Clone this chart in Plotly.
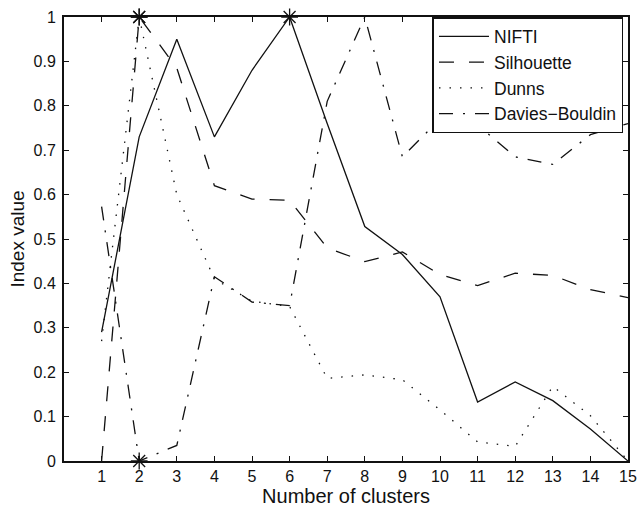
import numpy as np
import plotly.graph_objects as go

# ---- data ----
clusters = list(range(1, 16))
nifti = [0.29, 0.73, 0.95, 0.73, 0.88, 1.0, 0.76, 0.528, 0.465, 0.37, 0.133, 0.178, 0.136, 0.072, 0.0]
silhouette = [0.0, 1.0, 0.885, 0.62, 0.59, 0.587, 0.48, 0.449, 0.471, 0.42, 0.395, 0.423, 0.418, 0.386, 0.368]
dunns = [0.27, 1.0, 0.6, 0.41, 0.36, 0.348, 0.186, 0.194, 0.183, 0.115, 0.043, 0.033, 0.168, 0.102, 0.0]
davies = [0.573, 0.0, 0.035, 0.415, 0.358, 0.35, 0.81, 1.0, 0.685, 0.77, 0.757, 0.685, 0.668, 0.735, 0.76]

y_tick_vals = [0, 0.1, 0.2, 0.3, 0.4, 0.5, 0.6, 0.7, 0.8, 0.9, 1]
y_tick_text = ["0", "0.1", "0.2", "0.3", "0.4", "0.5", "0.6", "0.7", "0.8", "0.9", "1"]

FONT = "Liberation Sans, Arial, Helvetica, sans-serif"
INK = "#111111"

fig = go.Figure()
fig.add_trace(go.Scatter(x=clusters, y=nifti, mode="lines", name="NIFTI",
                         line=dict(color=INK, width=1.3)))
fig.add_trace(go.Scatter(x=clusters, y=silhouette, mode="lines", name="Silhouette",
                         line=dict(color=INK, width=1.3, dash="15px,15px")))
fig.add_trace(go.Scatter(x=clusters, y=dunns, mode="lines", name="Dunns",
                         line=dict(color=INK, width=1.3, dash="1.5px,9px")))
fig.add_trace(go.Scatter(x=clusters, y=davies, mode="lines", name="Davies\u2212Bouldin",
                         line=dict(color=INK, width=1.3, dash="14px,10px,2px,10px")))

# optimum markers (max of NIFTI, Silhouette, Dunns; min of Davies-Bouldin)
c = np.array(clusters)
opt_x = [c[np.argmax(nifti)], c[np.argmax(silhouette)], c[np.argmax(dunns)], c[np.argmin(davies)]]
opt_y = [max(nifti), max(silhouette), max(dunns), min(davies)]
fig.add_trace(go.Scatter(x=opt_x, y=opt_y, mode="markers", showlegend=False, cliponaxis=False,
                         marker=dict(symbol="asterisk-open", size=14, color=INK,
                                     line=dict(color=INK, width=1.3))))

axis_common = dict(showline=True, linecolor=INK, linewidth=2, mirror="ticks",
                   ticks="inside", ticklen=5, tickwidth=1, tickcolor=INK,
                   showgrid=False, zeroline=False, automargin=False,
                   tickfont=dict(family=FONT, size=16, color=INK))

fig.update_layout(
    width=637, height=507,
    margin=dict(l=64, r=9, t=17, b=46),
    paper_bgcolor="white", plot_bgcolor="white",
    font=dict(family=FONT, color=INK),
    xaxis=dict(range=[0, 15], tickvals=clusters,
               title=dict(text="Number of clusters", font=dict(family=FONT, size=20, color=INK), standoff=0),
               **axis_common),
    yaxis=dict(range=[0, 1], tickvals=y_tick_vals, ticktext=y_tick_text, ticklabelstandoff=3,
               title=dict(text="Index value", font=dict(family=FONT, size=19, color=INK), standoff=4),
               **axis_common),
    legend=dict(x=0.992, y=1.0, xanchor="right", yanchor="top",
                bgcolor="white", bordercolor=INK, borderwidth=1.5,
                font=dict(family=FONT, size=17.5, color=INK),
                itemwidth=50, tracegroupgap=0),
    showlegend=True,
)

fig.write_html("out.html")
